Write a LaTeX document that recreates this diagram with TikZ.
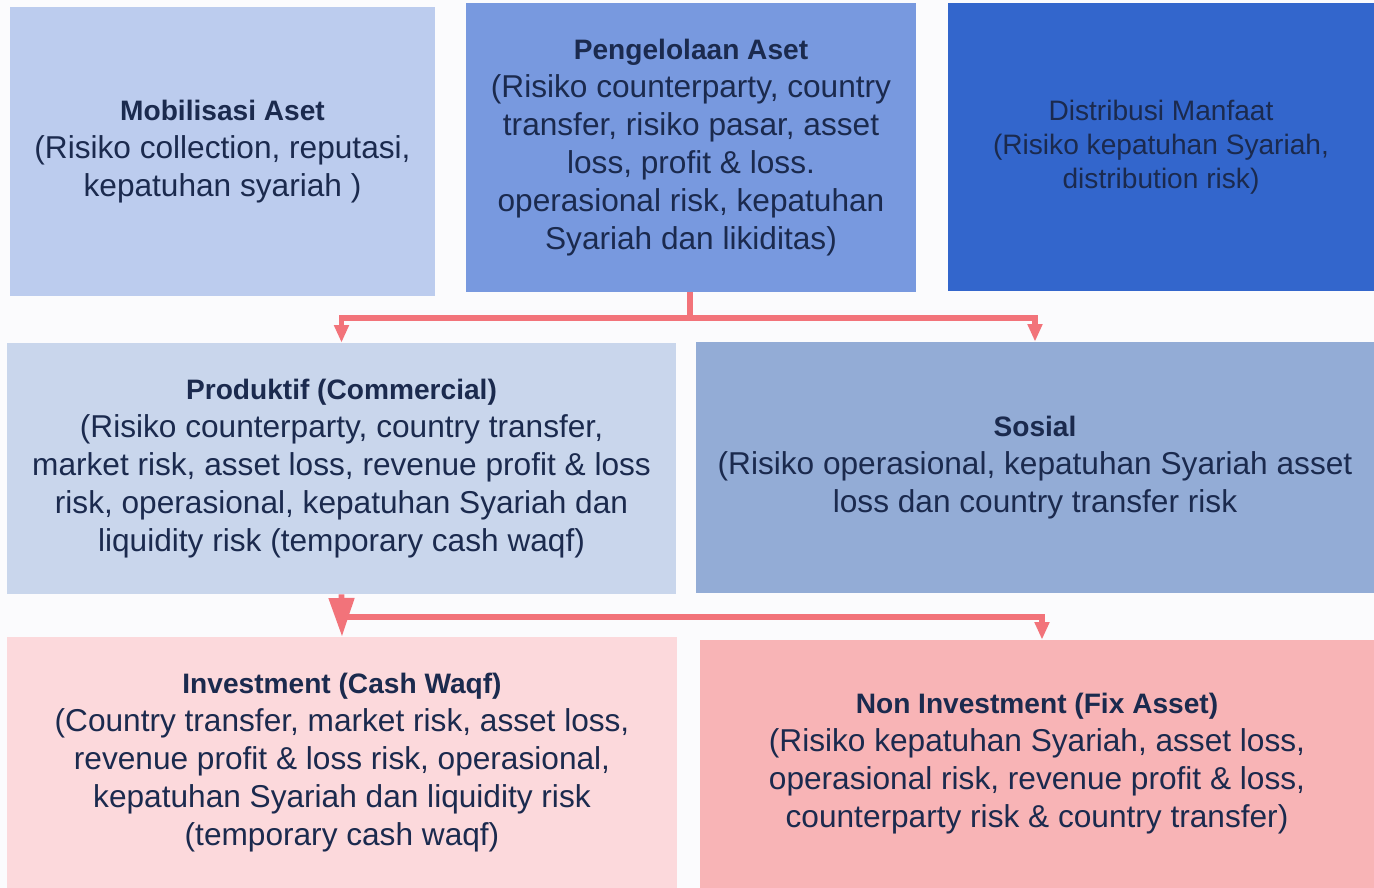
\documentclass[tikz,border=0pt]{standalone}
\usepackage{xcolor}
\usepackage{fontspec}
\setmainfont{Liberation Sans}
\usepackage{tikz}
\usetikzlibrary{arrows.meta}

\definecolor{txtNavy}{HTML}{1B2A4E}
\definecolor{mobFill}{HTML}{BCCCEE}
\definecolor{pengFill}{HTML}{7899DF}
\definecolor{distFill}{HTML}{3366CC}
\definecolor{prodFill}{HTML}{C9D6EC}
\definecolor{sosFill}{HTML}{93ACD6}
\definecolor{invFill}{HTML}{FCD9DC}
\definecolor{nonFill}{HTML}{F8B4B6}
\definecolor{linkRed}{HTML}{F2737A}
\definecolor{pageBg}{HTML}{FBFBFD}

\newcommand{\boxtitle}[1]{{\fontsize{16}{21.6}\selectfont\bfseries #1}}

\tikzset{
	riskbox/.style={inner sep=0pt, align=center, text=txtNavy,
		font=\fontsize{18}{21.6}\selectfont},
	link/.style={draw=linkRed, line width=3.3pt},
	smalltip/.style={-{Triangle[width=8pt,length=10pt]}},
	bigtip/.style={-{Triangle[width=14pt,length=22pt]}}
}

\begin{document}
\begin{tikzpicture}[x=0.02cm,y=-0.02cm]
		\fill[pageBg] (0,0) rectangle (1374,888);
		\useasboundingbox (0,0) rectangle (1374,888);
		% top row
		\node[riskbox, fill=mobFill, minimum width=8.5cm, minimum height=5.78cm] (mob) at (222.5,151.5)
			{\boxtitle{Mobilisasi Aset}\\(Risiko collection, reputasi,\\kepatuhan syariah )};
		\node[riskbox, fill=pengFill, minimum width=9cm, minimum height=5.78cm] (peng) at (691,147.5)
			{\boxtitle{Pengelolaan Aset}\\(Risiko counterparty, country\\transfer, risiko pasar, asset\\loss, profit \& loss.\\operasional risk, kepatuhan\\Syariah dan likiditas)};
		\node[riskbox, fill=distFill, minimum width=8.52cm, minimum height=5.76cm,
			font=\fontsize{16}{19.2}\selectfont] (dist) at (1161,147)
			{Distribusi Manfaat\\(Risiko kepatuhan Syariah,\\distribution risk)};
		% middle row
		\node[riskbox, fill=prodFill, minimum width=13.38cm, minimum height=5.02cm] (prod) at (341.5,468.5)
			{\boxtitle{Produktif (Commercial)}\\(Risiko counterparty, country transfer,\\market risk, asset loss, revenue profit \& loss\\risk, operasional, kepatuhan Syariah dan\\liquidity risk (temporary cash waqf)};
		\node[riskbox, fill=sosFill, minimum width=13.56cm, minimum height=5.02cm] (sos) at (1035,467.5)
			{\boxtitle{Sosial}\\(Risiko operasional, kepatuhan Syariah asset\\loss dan country transfer risk};
		% bottom row
		\node[riskbox, fill=invFill, minimum width=13.4cm, minimum height=5.02cm] (inv) at (342,762.5)
			{\boxtitle{Investment (Cash Waqf)}\\(Country transfer, market risk, asset loss,\\revenue profit \& loss risk, operasional,\\kepatuhan Syariah dan liquidity risk\\(temporary cash waqf)};
		\node[riskbox, fill=nonFill, minimum width=13.48cm, minimum height=4.96cm] (non) at (1037,764)
			{\boxtitle{Non Investment (Fix Asset)}\\(Risiko kepatuhan Syariah, asset loss,\\operasional risk, revenue profit \& loss,\\counterparty risk \& country transfer)};
		% connectors
		\coordinate (split1) at (690,318);
		\coordinate (split2) at (341,617);
		\draw[link] (peng.south -| split1) -- (split1);
		\draw[link, smalltip] (split1) -| (prod.north);
		\draw[link, smalltip] (split1) -| (sos.north);
		\draw[link, bigtip] (prod.south) -- (inv.north);
		\draw[link, smalltip] (split2) -| ([xshift=0.1cm]non.north);
	\end{tikzpicture}
\end{document}
